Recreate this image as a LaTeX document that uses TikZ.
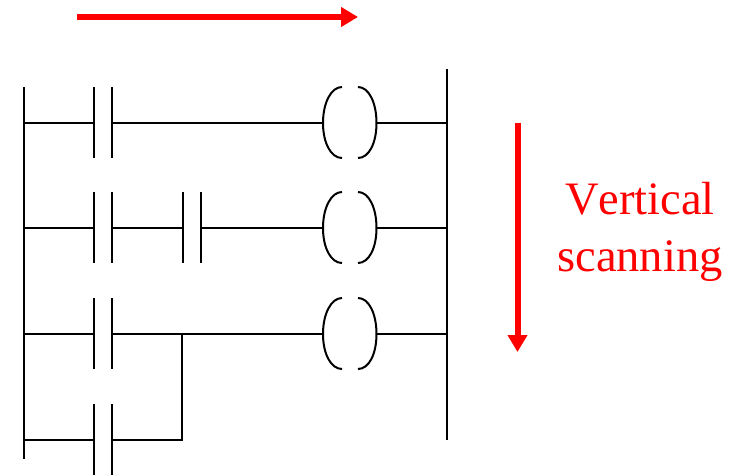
\documentclass[tikz,border=0pt]{standalone}
\usepackage{fontspec}
\setmainfont[Kerning=Off]{Liberation Serif}
\usetikzlibrary{arrows.meta}
\definecolor{scanred}{RGB}{255,0,0}
\tikzset{
  wire/.style={line width=2pt,black},
  plate/.style={line width=2pt,black},
  rail/.style={line width=2pt,black},
  scan/.style={line width=6pt,scanred,-{Triangle[length=17pt,width=19pt]}},
  lbl/.style={text=scanred,font=\fontsize{46.5}{57}\selectfont,align=center,inner sep=0pt},
}
% contact: #1 name, #2 left x, #3 y
\newcommand{\contactpair}[3]{%
  \coordinate (#1L) at (#2,#3);
  \coordinate (#1R) at (#2+18,#3);
  \draw[plate] (#2,#3-36) -- (#2,#3+35);
  \draw[plate] (#2+18,#3-36) -- (#2+18,#3+35);
}
% coil: #1 name, #2 y
\newcommand{\coilpair}[2]{%
  \coordinate (#1L) at (323,#2);
  \coordinate (#1R) at (376.5,#2);
  \draw[plate] (342,#2-36) .. controls (331,#2-36) and (323,#2-20) .. (323,#2)
     .. controls (323,#2+20) and (331,#2+35) .. (342,#2+35);
  \draw[plate] (358,#2-36) .. controls (369,#2-36) and (376.5,#2-20) .. (376.5,#2)
     .. controls (376.5,#2+20) and (369,#2+35) .. (358,#2+35);
}
\begin{document}
\begin{tikzpicture}[x=1pt,y=-1pt]
\useasboundingbox (0,0) rectangle (740,476);
\clip (0,0) rectangle (740,476);
\coordinate (railLtop) at (23.5,87);
\coordinate (railLbot) at (23.5,459);
\coordinate (railRtop) at (446.5,69);
\coordinate (railRbot) at (446.5,440);
\coordinate (hs) at (77,17);
\coordinate (he) at (358,17);
\coordinate (vs) at (517.5,123);
\coordinate (ve) at (517.5,352);
\draw[rail] (railLtop) -- (railLbot);
\draw[rail] (railRtop) -- (railRbot);
\contactpair{a}{94}{123}
\contactpair{b}{94}{228}
\contactpair{c}{183}{228}
\contactpair{d}{94}{334}
\contactpair{e}{94}{440}
\coilpair{p}{123}
\coilpair{q}{228}
\coilpair{r}{334}
% rung 1
\draw[wire] (23.5,123) -- (aL);
\draw[wire] (aR) -- (pL);
\draw[wire] (pR) -- (446.5,123);
% rung 2
\draw[wire] (23.5,228) -- (bL);
\draw[wire] (bR) -- (cL);
\draw[wire] (cR) -- (qL);
\draw[wire] (qR) -- (446.5,228);
% rung 3
\draw[wire] (23.5,334) -- (dL);
\draw[wire] (dR) -- (rL);
\draw[wire] (rR) -- (446.5,334);
% rung 4
\draw[wire] (23.5,440) -- (eL);
\draw[wire,line join=miter] (eR) -| (182,334);
% scan arrows
\draw[scan] (hs) -- (he);
\draw[scan] (vs) -- (ve);
\node[lbl] (vlabel) at (640,231.5) {Vertical\\scanning};
\end{tikzpicture}
\end{document}
